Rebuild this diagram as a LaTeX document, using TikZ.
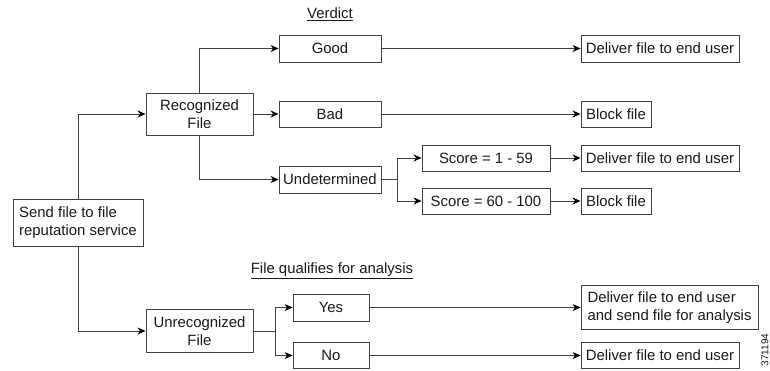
\documentclass[tikz,border=0pt]{standalone}
\usepackage{fontspec}
\setmainfont{Liberation Sans}
\usetikzlibrary{arrows.meta}
\begin{document}
\begin{tikzpicture}[x=1pt,y=-1pt,
  box/.style={draw=black!75,line width=0.9pt,inner sep=0pt,align=center,
    font=\fontsize{14.9}{17.5}\selectfont,text=black!90},
  lline/.style={draw=black!75,line width=0.9pt},
  conn/.style={lline,-{Stealth[length=8pt,width=7pt,inset=2.5pt,color=black]}},
  lbl/.style={font=\fontsize{14.9}{17.5}\selectfont,text=black!90,inner sep=0pt}]
\useasboundingbox (0,0) rectangle (770,370);
% nodes
\node[box,minimum width=130pt,minimum height=47pt,align=left] (send) at (78,222.5) {Send file to file\\reputation service};
\node[box,minimum width=107pt,minimum height=42pt] (rec) at (199.5,114) {Recognized\\File};
\node[box,minimum width=107pt,minimum height=43pt] (unrec) at (199.5,331) {Unrecognized\\File};
\node[box,minimum width=102pt,minimum height=27pt] (good) at (330,48.5) {Good};
\node[box,minimum width=102pt,minimum height=26pt] (bad) at (330,114) {Bad};
\node[box,minimum width=102pt,minimum height=27pt] (und) at (330,179.5) {Undetermined};
\node[box,minimum width=128pt,minimum height=26pt] (s1) at (486,158) {Score = 1 - 59};
\node[box,minimum width=128pt,minimum height=26pt] (s2) at (486,201) {Score = 60 - 100};
\node[box,minimum width=158pt,minimum height=27pt] (d1) at (660,48.5) {Deliver file to end user};
\node[box,minimum width=70pt,minimum height=26pt] (b1) at (616,114) {Block file};
\node[box,minimum width=158pt,minimum height=26pt] (d2) at (660,158) {Deliver file to end user};
\node[box,minimum width=70pt,minimum height=26pt] (b2) at (616,201) {Block file};
\node[box,minimum width=76pt,minimum height=27pt] (yes) at (331,307.5) {Yes};
\node[box,minimum width=76pt,minimum height=26pt] (no) at (331,355.5) {No};
\node[box,minimum width=177pt,minimum height=44pt,align=left] (d3) at (669.5,307.5) {Deliver file to end user\\and send file for analysis};
\node[box,minimum width=158pt,minimum height=26pt] (d4) at (660,355.5) {Deliver file to end user};
% labels
\node[lbl] (verdict) at (330,14) {\underline{Verdict}};
\node[lbl] (qual) at (332,271) {\underline{File qualifies for analysis}};
\node[lbl,font=\fontsize{10}{12}\selectfont,rotate=90] (id) at (765,350) {371194};
% connectors
\draw[conn] (send.north) |- (rec.west);
\draw[conn] (send.south) |- (unrec.west);
\draw[conn] (rec.north) |- (good.west);
\draw[conn] (rec.east) -- (bad.west);
\draw[conn] (rec.south) |- (und.west);
\draw[conn] (good.east) -- (d1.west);
\draw[conn] (bad.east) -- (b1.west);
\coordinate (uj) at (397,179.5);
\draw[lline] (und.east) -- (uj);
\draw[conn] (uj) |- (s1.west);
\draw[conn] (uj) |- (s2.west);
\draw[conn] (s1.east) -- (d2.west);
\draw[conn] (s2.east) -- (b2.west);
\coordinate (rj) at (275,331);
\draw[lline] (unrec.east) -- (rj);
\draw[conn] (rj) |- (yes.west);
\draw[conn] (rj) |- (no.west);
\draw[conn] (yes.east) -- (d3.west);
\draw[conn] (no.east) -- (d4.west);
\end{tikzpicture}
\end{document}
